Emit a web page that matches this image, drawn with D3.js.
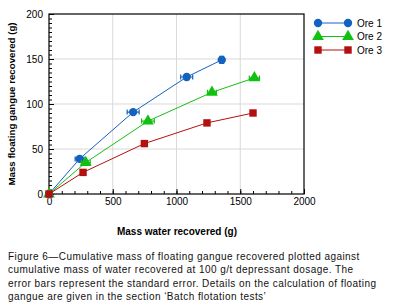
<!DOCTYPE html>
<html>
<head>
<meta charset="utf-8">
<script src="https://cdn.jsdelivr.net/npm/d3@7"></script>
<style>
  body { margin: 0; background: #fff; }
  text { font-family: "Liberation Sans", Arial, sans-serif; }
</style>
</head>
<body>
<script>
// data
var seriesNames = ["Ore 1", "Ore 2", "Ore 3"];
var water1 = [0, 240, 660, 1080, 1355];
var gangue1 = [0, 39, 91, 130, 149];
var xErr1 = [0, 35, 47, 47, 0];
var yErr1 = [0, 0, 0, 0, 4];
var water2 = [0, 288, 776, 1278, 1611];
var gangue2 = [0, 35, 81, 113, 129];
var xErr2 = [0, 35, 50, 35, 40];
var yErr2 = [0, 0, 0, 0, 0];
var water3 = [0, 267, 748, 1239, 1600];
var gangue3 = [0, 24, 56, 79, 90];
var xErr3 = [0, 0, 0, 0, 0];
var yErr3 = [0, 0, 0, 0, 0];
var xTicks = [0, 500, 1000, 1500, 2000];
var yTicks = [0, 50, 100, 150, 200];
var captionLines = [
  "Figure 6\u2014Cumulative mass of floating gangue recovered plotted against",
  "cumulative mass of water recovered at 100 g/t depressant dosage. The",
  "error bars represent the standard error. Details on the calculation of floating",
  "gangue are given in the section \u2018Batch flotation tests\u2019"
];

// svg container
var width = 399, height = 308;
var margin = { top: 14, right: 95, bottom: 114, left: 49 };
var chartWidth = width - margin.left - margin.right;
var chartHeight = height - margin.top - margin.bottom;

var svg = d3.select("body").append("svg")
    .attr("width", width)
    .attr("height", height);

var chartGroup = svg.append("g")
    .attr("transform", `translate(${margin.left}, ${margin.top})`);

var xScale = d3.scaleLinear().domain([0, 2000]).range([0, chartWidth]);
var yScale = d3.scaleLinear().domain([0, 200]).range([chartHeight, 0]);

// grid lines
chartGroup.selectAll(".vgrid")
    .data(xTicks.slice(1, -1))
    .enter().append("line")
    .attr("x1", d => xScale(d)).attr("x2", d => xScale(d))
    .attr("y1", 0).attr("y2", chartHeight)
    .attr("stroke", "#d9d9d9");
chartGroup.selectAll(".hgrid")
    .data(yTicks.slice(1, -1))
    .enter().append("line")
    .attr("x1", 0).attr("x2", chartWidth)
    .attr("y1", d => yScale(d)).attr("y2", d => yScale(d))
    .attr("stroke", "#d9d9d9");

// minor ticks pointing inwards
chartGroup.append("g")
    .attr("transform", `translate(0, ${chartHeight})`)
    .call(d3.axisTop(xScale).tickValues(d3.range(0, 2001, 100)).tickSize(3).tickFormat(""));
chartGroup.append("g")
    .call(d3.axisRight(yScale).tickValues(d3.range(0, 201, 5)).tickSize(3).tickFormat(""));

// major ticks with labels
chartGroup.append("g")
    .attr("transform", `translate(0, ${chartHeight})`)
    .call(d3.axisBottom(xScale).tickValues(xTicks).tickSize(0).tickPadding(4).tickFormat(d3.format("d")));
chartGroup.append("g")
    .attr("transform", `translate(0, ${chartHeight})`)
    .call(d3.axisTop(xScale).tickValues(xTicks).tickSize(5).tickFormat(""));
chartGroup.append("g")
    .call(d3.axisLeft(yScale).tickValues(yTicks).tickSize(0).tickPadding(6).tickFormat(d3.format("d")));
chartGroup.append("g")
    .call(d3.axisRight(yScale).tickValues(yTicks).tickSize(5).tickFormat(""));

chartGroup.selectAll(".domain").remove();
chartGroup.selectAll(".tick line").attr("stroke", "#000");
chartGroup.selectAll(".tick text")
    .attr("font-size", 10)
    .attr("font-family", "Liberation Sans, Arial, sans-serif")
    .attr("fill", "#000");

// frame
chartGroup.append("rect")
    .attr("width", chartWidth).attr("height", chartHeight)
    .attr("fill", "none").attr("stroke", "#000").attr("stroke-width", 1.2);

// series
var series = [
  { name: seriesNames[0], x: water1, y: gangue1, xe: xErr1, ye: yErr1, color: "#1462c0", shape: d3.symbolCircle, size: 55 },
  { name: seriesNames[1], x: water2, y: gangue2, xe: xErr2, ye: yErr2, color: "#12c012", shape: d3.symbolTriangle, size: 60 },
  { name: seriesNames[2], x: water3, y: gangue3, xe: xErr3, ye: yErr3, color: "#b40f0f", shape: d3.symbolSquare, size: 55 }
];

var line = d3.line().x(d => xScale(d[0])).y(d => yScale(d[1]));

series.forEach(function(s) {
  var pts = s.x.map((v, i) => [v, s.y[i], s.xe[i], s.ye[i]]);
  var g = chartGroup.append("g");
  g.append("path")
      .datum(pts)
      .attr("d", line)
      .attr("fill", "none")
      .attr("stroke", s.color)
      .attr("stroke-width", 1);

  // horizontal error bars
  pts.filter(p => p[2] > 0).forEach(function(p) {
    var x0 = xScale(p[0] - p[2]), x1 = xScale(p[0] + p[2]), y = yScale(p[1]);
    g.append("path")
        .attr("d", `M${x0},${y}H${x1}M${x0},${y - 2.5}V${y + 2.5}M${x1},${y - 2.5}V${y + 2.5}`)
        .attr("stroke", s.color).attr("stroke-width", 1.2).attr("fill", "none");
  });
  // vertical error bars
  pts.filter(p => p[3] > 0).forEach(function(p) {
    var y0 = yScale(p[1] - p[3]), y1 = yScale(p[1] + p[3]), x = xScale(p[0]);
    g.append("path")
        .attr("d", `M${x},${y0}V${y1}M${x - 2.5},${y0}H${x + 2.5}M${x - 2.5},${y1}H${x + 2.5}`)
        .attr("stroke", s.color).attr("stroke-width", 1.2).attr("fill", "none");
  });

  g.selectAll(".pt")
      .data(pts)
      .enter().append("path")
      .attr("transform", d => `translate(${xScale(d[0])}, ${yScale(d[1])})`)
      .attr("d", d3.symbol().type(s.shape).size(s.size))
      .attr("fill", s.color);
});

// legend
var legend = svg.append("g").attr("transform", "translate(318, 23)");
series.forEach(function(s, i) {
  var row = legend.append("g").attr("transform", `translate(0, ${i * 13.5})`);
  row.append("line").attr("x1", 0).attr("x2", 30)
      .attr("stroke", s.color).attr("stroke-width", 1);
  [0, 30].forEach(function(x) {
    row.append("path")
        .attr("transform", `translate(${x}, 0)`)
        .attr("d", d3.symbol().type(s.shape).size(s.size))
        .attr("fill", s.color);
  });
  row.append("text")
      .attr("x", 39).attr("y", 3.5)
      .attr("font-size", 10)
      .text(s.name);
});

// axis titles
svg.append("text")
    .attr("transform", `translate(15, ${margin.top + chartHeight / 2}) rotate(-90)`)
    .attr("text-anchor", "middle")
    .attr("font-size", 9.7)
    .attr("font-weight", "bold")
    .text("Mass floating gangue recovered (g)");

svg.append("text")
    .attr("x", 177).attr("y", 235)
    .attr("text-anchor", "middle")
    .attr("font-size", 10)
    .attr("font-weight", "bold")
    .text("Mass water recovered (g)");

// caption
svg.selectAll(".caption")
    .data(captionLines)
    .enter().append("text")
    .attr("x", 8)
    .attr("y", (d, i) => 260 + i * 13.3)
    .attr("font-size", 10)
    .attr("letter-spacing", 0.45)
    .attr("fill", "#111")
    .text(d => d);
</script>
</body>
</html>
